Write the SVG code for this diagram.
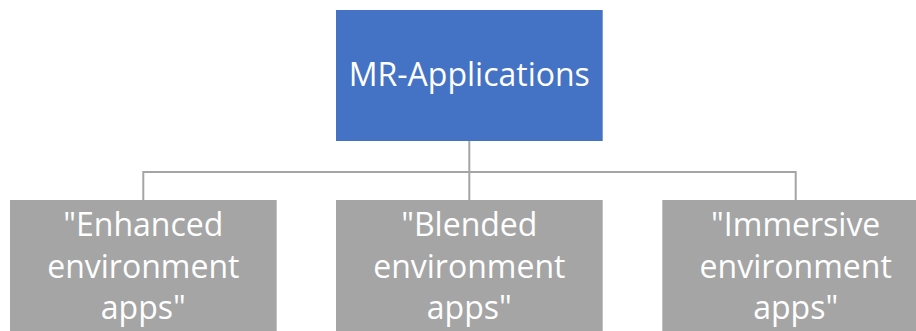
<svg xmlns="http://www.w3.org/2000/svg" width="916" height="331" viewBox="0 0 916 331">
<style>
.t{font-family:"Open Sans","Liberation Sans",sans-serif;font-size:32px;fill:#fff;text-anchor:middle}
.c{stroke:#A5A5A5;stroke-width:2;fill:none}
</style>
<rect width="916" height="331" fill="#fff"/>
<g id="connectors">
<path class="c" d="M469.3 141V200M143.3 200V172H795.7V200"/>
</g>
<g id="root">
<rect x="336" y="10" width="266.7" height="131" fill="#4472C4"/>
<text class="t" x="469.3" y="86">MR-Applications</text>
</g>
<g id="enhanced">
<rect x="10" y="200" width="266.7" height="140" fill="#A5A5A5"/>
<text class="t" x="143.3" y="236">"Enhanced</text>
<text class="t" x="143.3" y="277.5">environment</text>
<text class="t" x="143.3" y="319">apps"</text>
</g>
<g id="blended">
<rect x="336" y="200" width="266.7" height="140" fill="#A5A5A5"/>
<text class="t" x="469.3" y="236">"Blended</text>
<text class="t" x="469.3" y="277.5">environment</text>
<text class="t" x="469.3" y="319">apps"</text>
</g>
<g id="immersive">
<rect x="662.3" y="200" width="266.7" height="140" fill="#A5A5A5"/>
<text class="t" x="795.7" y="236">"Immersive</text>
<text class="t" x="795.7" y="277.5">environment</text>
<text class="t" x="795.7" y="319">apps"</text>
</g>
</svg>
